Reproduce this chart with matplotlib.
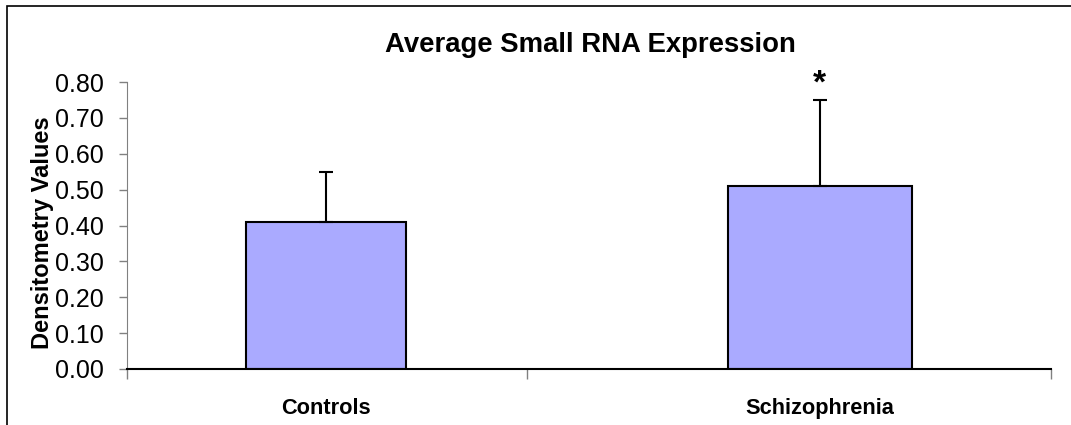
import matplotlib.pyplot as plt
from matplotlib.patches import Rectangle
from matplotlib.ticker import FixedLocator, NullFormatter

categories = ['Controls', 'Schizophrenia']
means = [0.41, 0.51]
errors = [0.14, 0.24]
significance = ['', '*']

plt.rcParams['font.family'] = ['Liberation Sans', 'DejaVu Sans']

fig = plt.figure(figsize=(10.71, 4.25), dpi=100)
W, H = 1071, 425

# axes area in pixels: left 127, right 1051, top 82, bottom 369
ax = fig.add_axes([127 / W, 1 - 369 / H, (1051 - 127) / W, (369 - 82) / H])

# outer chart frame (only the left and top edges are visible)
fig.patches.append(Rectangle((7 / W, -0.1), 1.2, 1 - 6 / H + 0.1,
                             transform=fig.transFigure, fill=False,
                             edgecolor='black', linewidth=1.2))

x = list(range(len(categories)))
widths = [0.324, 0.374]
ax.bar(x, means, width=widths, color='#aaaaff', edgecolor='black', linewidth=1.5, zorder=2)
# upper error bars only
ax.errorbar(x, means, yerr=[[0] * len(errors), errors], fmt='none',
            ecolor='black', elinewidth=1.5, capsize=5, capthick=1.5, zorder=3)

for xi, m, e, s in zip(x, means, errors, significance):
    if s:
        ax.text(xi, m + e, s, ha='center', va='bottom',
                fontsize=24, fontweight='bold')

ax.set_xlim(-0.403, 1.468)
ax.set_ylim(0, 0.80)
ax.set_yticks([i / 10 for i in range(9)])
ax.set_yticklabels([f'{i / 10:.2f}' for i in range(9)], fontsize=18)
ax.tick_params(axis='y', direction='out', length=6, width=1, color='#808080', pad=11)

ax.set_xticks(x)
ax.set_xticklabels(categories, fontsize=15.7, fontweight='bold')
ax.xaxis.set_minor_locator(FixedLocator([-0.403, 0.407, 1.468]))
ax.xaxis.set_minor_formatter(NullFormatter())
ax.tick_params(axis='x', which='major', length=0, pad=21)
ax.tick_params(axis='x', which='minor', direction='out', length=7, width=1, color='#808080')

ax.spines['top'].set_visible(False)
ax.spines['right'].set_visible(False)
ax.spines['left'].set_color('#808080')
ax.spines['bottom'].set_color('black')
ax.spines['bottom'].set_linewidth(1.5)

ax.set_ylabel('Densitometry Values', fontsize=17, fontweight='bold')
ax.yaxis.set_label_coords((54 - 127) / (1051 - 127), (369 - 233) / (369 - 82))
fig.text(590 / W, 1 - 45 / H, 'Average Small RNA Expression', ha='center', va='center',
         fontsize=19.8, fontweight='bold')

fig.savefig('out.png', dpi=100)
